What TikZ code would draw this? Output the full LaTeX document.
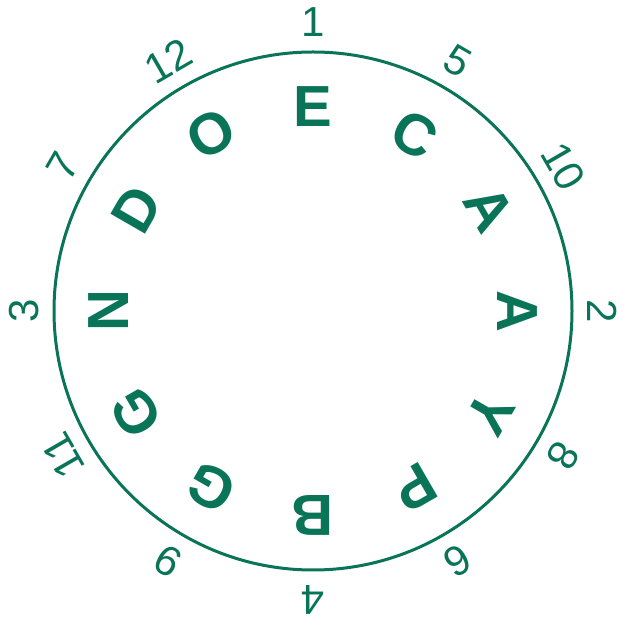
\documentclass[tikz,border=0pt]{standalone}
\usepackage{fontspec}
\setmainfont{Liberation Sans}
\usetikzlibrary{calc}
\definecolor{ink}{RGB}{10,116,88}
\begin{document}
\begin{tikzpicture}[x=1pt,y=1pt,
  numlbl/.style={text=ink,inner sep=0pt,font=\fontsize{42}{42}\selectfont},
  letlbl/.style={text=ink,inner sep=0pt,font=\fontsize{58}{58}\selectfont\bfseries}]
\useasboundingbox (0,0) rectangle (622,619);
\coordinate (c) at (313,308);
\draw[ink,line width=3pt] (c) circle[radius=259];
\foreach \n/\l [count=\i from 0] in {1/E,5/C,10/A,2/A,8/Y,6/P,4/B,9/G,11/G,3/N,7/D,12/O}{
  \pgfmathsetmacro{\ang}{90-30*\i}
  \pgfmathsetmacro{\rot}{-30*\i}
  \node[numlbl,rotate=\rot] (n\i) at ($(c)+(\ang:289)$) {\n};
  \node[letlbl,rotate=\rot] (l\i) at ($(c)+(\ang:204)$) {\l};
}
\end{tikzpicture}
\end{document}
